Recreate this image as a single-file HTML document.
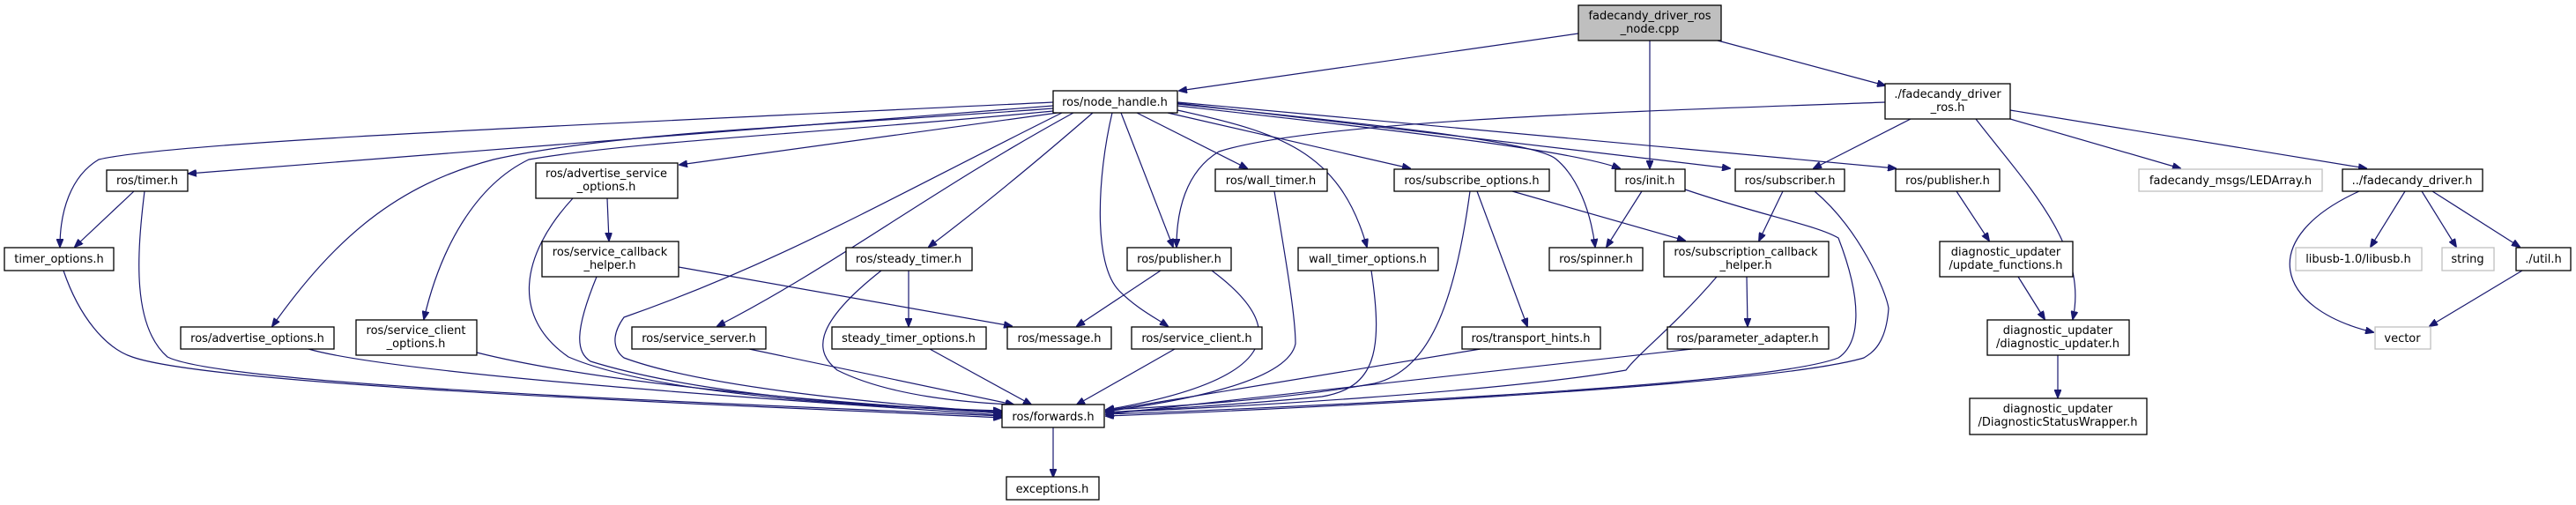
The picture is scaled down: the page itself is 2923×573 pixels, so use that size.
<!DOCTYPE html>
<html><head><meta charset="utf-8"><style>
html,body{margin:0;padding:0;background:#fff;}
svg{display:block;}
text{font-family:"DejaVu Sans","Liberation Sans",sans-serif;font-size:13px;fill:#000;text-anchor:middle;}
.n{fill:#fff;stroke:#000;stroke-width:1.3;}
.g{fill:#fff;stroke:#bfbfbf;stroke-width:1.3;}
.c{fill:#bfbfbf;stroke:#000;stroke-width:1.3;}
path.e{fill:none;stroke:#191970;stroke-width:1.2;marker-end:url(#a);}
</style></head><body>
<svg width="2923" height="573" viewBox="0 0 2923 573" xmlns="http://www.w3.org/2000/svg">
<defs><marker id="a" markerWidth="10" markerHeight="8" refX="9" refY="4" orient="auto" markerUnits="userSpaceOnUse"><path d="M0,0 L10,4 L0,8 z" fill="#191970" stroke="#191970"/></marker></defs>

<!-- edges -->
<path class="e" d="M1791,38 L1338,103"/>
<path class="e" d="M1872,46 L1872,191"/>
<path class="e" d="M1949,46 L2139,97"/>
<path class="e" d="M1195,116 C700,140 200,160 112,181 C80,200 68,240 68,280"/>
<path class="e" d="M1195,120 L214,197"/>
<path class="e" d="M1195,123 C900,145 700,150 560,181 C450,210 380,270 309,370"/>
<path class="e" d="M1195,126 C950,150 720,160 600,181 C540,210 500,280 481,362"/>
<path class="e" d="M1200,128 L771,187"/>
<path class="e" d="M1218,128 C1050,220 950,300 814,370"/>
<path class="e" d="M1240,128 C1180,180 1120,230 1054,280"/>
<path class="e" d="M1272,128 L1331,280"/>
<path class="e" d="M1262,128 C1245,200 1240,300 1270,330 C1290,350 1310,360 1325,370"/>
<path class="e" d="M1205,128 C1000,230 880,300 708,360 C690,385 700,400 708,406 C800,440 1000,458 1136,468"/>
<path class="e" d="M1290,128 L1415,191"/>
<path class="e" d="M1336,125 C1450,150 1520,170 1551,280"/>
<path class="e" d="M1325,128 L1600,191"/>
<path class="e" d="M1336,120 C1600,150 1780,170 1838,191"/>
<path class="e" d="M1336,118 C1550,140 1740,160 1765,180 C1790,200 1805,240 1810,280"/>
<path class="e" d="M1336,117 L1963,191"/>
<path class="e" d="M1336,116 L2151,191"/>
<path class="e" d="M2139,116 C1900,125 1500,135 1383,172 C1345,195 1335,240 1335,280"/>
<path class="e" d="M2168,135 L2058,191"/>
<path class="e" d="M2242,135 C2300,210 2370,280 2352,362"/>
<path class="e" d="M2281,135 L2474,191"/>
<path class="e" d="M2281,125 L2685,191"/>
<path class="e" d="M2677,217 C2560,270 2580,350 2693,377"/>
<path class="e" d="M2729,217 L2690,280"/>
<path class="e" d="M2748,217 L2787,280"/>
<path class="e" d="M2760,217 L2859,280"/>
<path class="e" d="M2862,307 L2757,370"/>
<path class="e" d="M152,217 L85,280"/>
<path class="e" d="M164,217 C155,290 150,370 190,405 C260,440 900,460 1136,472"/>
<path class="e" d="M72,307 C90,360 120,395 150,405 C250,440 900,462 1136,474"/>
<path class="e" d="M350,396 C450,425 900,455 1136,471"/>
<path class="e" d="M541,400 C700,440 1000,460 1136,469"/>
<path class="e" d="M689,225 L691,273"/>
<path class="e" d="M650,225 C590,290 580,360 645,405 C750,450 1000,462 1136,467"/>
<path class="e" d="M677,314 C650,380 655,400 670,410 C800,450 1000,462 1136,466"/>
<path class="e" d="M770,303 L1148,370"/>
<path class="e" d="M850,396 L1150,459"/>
<path class="e" d="M1000,307 C920,370 925,400 950,420 C1010,450 1100,457 1150,459"/>
<path class="e" d="M1031,307 L1031,370"/>
<path class="e" d="M1055,396 L1170,459"/>
<path class="e" d="M1317,307 L1222,370"/>
<path class="e" d="M1375,307 C1460,370 1460,430 1255,465"/>
<path class="e" d="M1333,396 L1222,459"/>
<path class="e" d="M1446,217 C1460,300 1470,360 1470,390 C1460,440 1300,460 1255,467"/>
<path class="e" d="M1556,307 C1570,400 1560,440 1500,450 C1400,460 1300,465 1255,468"/>
<path class="e" d="M1668,217 C1650,350 1620,420 1560,435 C1450,455 1300,463 1255,465"/>
<path class="e" d="M1676,217 L1733,370"/>
<path class="e" d="M1716,217 L1912,273"/>
<path class="e" d="M1863,217 L1823,280"/>
<path class="e" d="M1912,215 C2000,245 2060,255 2086,270 C2115,345 2110,390 2086,406 C2000,440 1400,465 1255,470"/>
<path class="e" d="M2023,217 L1996,273"/>
<path class="e" d="M2059,217 C2110,260 2140,330 2143,350 C2140,390 2125,400 2115,406 C2000,440 1400,467 1255,472"/>
<path class="e" d="M1982,314 L1983,370"/>
<path class="e" d="M1948,314 C1900,370 1860,400 1845,420 C1700,445 1400,462 1255,468"/>
<path class="e" d="M1680,396 L1255,466"/>
<path class="e" d="M1920,396 L1255,470"/>
<path class="e" d="M2220,217 L2257,273"/>
<path class="e" d="M2290,314 L2320,362"/>
<path class="e" d="M2335,403 L2335,451"/>
<path class="e" d="M1195,485 L1195,541"/>

<!-- nodes -->
<rect class="c" x="1791" y="6" width="162" height="40"/><text x="1872" y="22">fadecandy_driver_ros</text><text x="1872" y="37">_node.cpp</text>
<rect class="n" x="1195" y="103" width="141" height="25"/><text x="1265" y="120">ros/node_handle.h</text>
<rect class="n" x="2139" y="95" width="142" height="40"/><text x="2210" y="111">./fadecandy_driver</text><text x="2210" y="126">_ros.h</text>
<rect class="n" x="121" y="193" width="92" height="24"/><text x="167" y="209">ros/timer.h</text>
<rect class="n" x="5" y="281" width="124" height="26"/><text x="67" y="298">timer_options.h</text>
<rect class="n" x="608" y="185" width="161" height="40"/><text x="688" y="201">ros/advertise_service</text><text x="688" y="216">_options.h</text>
<rect class="n" x="615" y="274" width="155" height="40"/><text x="692" y="290">ros/service_callback</text><text x="692" y="305">_helper.h</text>
<rect class="n" x="205" y="371" width="174" height="25"/><text x="292" y="388">ros/advertise_options.h</text>
<rect class="n" x="404" y="363" width="137" height="40"/><text x="472" y="379">ros/service_client</text><text x="472" y="394">_options.h</text>
<rect class="n" x="717" y="371" width="152" height="25"/><text x="793" y="388">ros/service_server.h</text>
<rect class="n" x="960" y="281" width="143" height="26"/><text x="1031" y="298">ros/steady_timer.h</text>
<rect class="n" x="944" y="371" width="175" height="25"/><text x="1031" y="388">steady_timer_options.h</text>
<rect class="n" x="1143" y="371" width="118" height="25"/><text x="1202" y="388">ros/message.h</text>
<rect class="n" x="1284" y="371" width="148" height="25"/><text x="1358" y="388">ros/service_client.h</text>
<rect class="n" x="1279" y="281" width="118" height="26"/><text x="1338" y="298">ros/publisher.h</text>
<rect class="n" x="1379" y="192" width="127" height="25"/><text x="1442" y="209">ros/wall_timer.h</text>
<rect class="n" x="1473" y="281" width="159" height="26"/><text x="1552" y="298">wall_timer_options.h</text>
<rect class="n" x="1582" y="192" width="176" height="25"/><text x="1670" y="209">ros/subscribe_options.h</text>
<rect class="n" x="1833" y="192" width="79" height="25"/><text x="1872" y="209">ros/init.h</text>
<rect class="n" x="1758" y="281" width="106" height="26"/><text x="1811" y="298">ros/spinner.h</text>
<rect class="n" x="1888" y="274" width="187" height="40"/><text x="1981" y="290">ros/subscription_callback</text><text x="1981" y="305">_helper.h</text>
<rect class="n" x="1659" y="371" width="157" height="25"/><text x="1737" y="388">ros/transport_hints.h</text>
<rect class="n" x="1892" y="371" width="183" height="25"/><text x="1983" y="388">ros/parameter_adapter.h</text>
<rect class="n" x="1137" y="459" width="116" height="26"/><text x="1195" y="477">ros/forwards.h</text>
<rect class="n" x="1142" y="541" width="105" height="26"/><text x="1194" y="559">exceptions.h</text>
<rect class="n" x="1969" y="192" width="124" height="25"/><text x="2031" y="209">ros/subscriber.h</text>
<rect class="n" x="2151" y="192" width="118" height="25"/><text x="2210" y="209">ros/publisher.h</text>
<rect class="n" x="2201" y="274" width="151" height="40"/><text x="2276" y="290">diagnostic_updater</text><text x="2276" y="305">/update_functions.h</text>
<rect class="n" x="2255" y="363" width="161" height="40"/><text x="2335" y="379">diagnostic_updater</text><text x="2335" y="394">/diagnostic_updater.h</text>
<rect class="n" x="2235" y="452" width="201" height="41"/><text x="2335" y="468">diagnostic_updater</text><text x="2335" y="483">/DiagnosticStatusWrapper.h</text>
<rect class="g" x="2427" y="192" width="208" height="25"/><text x="2531" y="209">fadecandy_msgs/LEDArray.h</text>
<rect class="n" x="2658" y="192" width="159" height="25"/><text x="2737" y="209">../fadecandy_driver.h</text>
<rect class="g" x="2605" y="281" width="143" height="26"/><text x="2676" y="298">libusb-1.0/libusb.h</text>
<rect class="g" x="2771" y="281" width="59" height="26"/><text x="2800" y="298">string</text>
<rect class="n" x="2855" y="281" width="62" height="26"/><text x="2886" y="298">./util.h</text>
<rect class="g" x="2695" y="371" width="63" height="25"/><text x="2726" y="388">vector</text>
</svg>
</body></html>
